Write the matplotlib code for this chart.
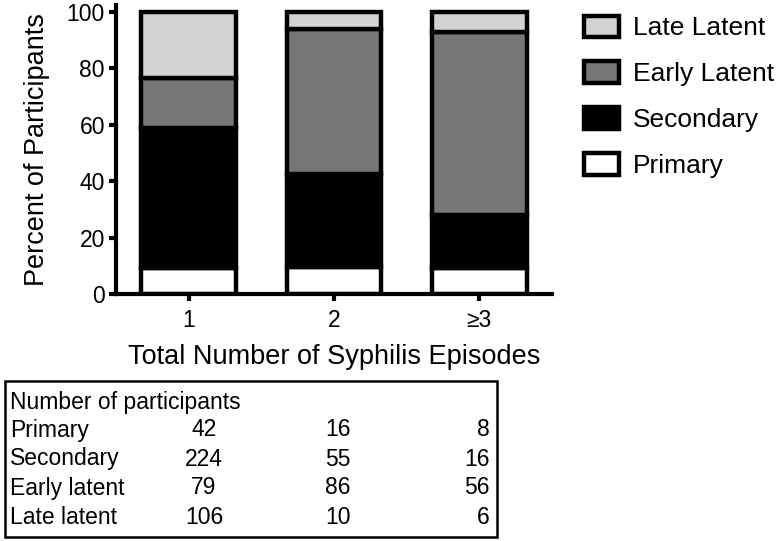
import matplotlib
matplotlib.use("Agg")
import matplotlib.pyplot as plt
import numpy as np

plt.rcParams['font.family'] = ['Liberation Sans', 'DejaVu Sans']

groups = ["1", "2", "\u22653"]
stages = ["Primary", "Secondary", "Early Latent", "Late Latent"]
table_labels = ["Primary", "Secondary", "Early latent", "Late latent"]
primary = [42, 16, 8]
secondary = [224, 55, 16]
early_latent = [79, 86, 56]
late_latent = [106, 10, 6]
colors = ["#ffffff", "#000000", "#767676", "#d3d3d3"]

counts = np.array([primary, secondary, early_latent, late_latent], dtype=float)
pct = counts / counts.sum(axis=0) * 100

W, H = 779, 541
fig = plt.figure(figsize=(W / 100, H / 100), dpi=100)
ax = fig.add_axes([116 / W, 1 - 294 / H, (552 - 116) / W, (294 - 5) / H])

x = np.arange(len(groups))
bottom = np.zeros(len(groups))
handles = []
for i, stage in enumerate(stages):
    b = ax.bar(x, pct[i], 0.65, bottom=bottom, color=colors[i],
               edgecolor="black", linewidth=3.2, label=stage, zorder=2)
    handles.append(b)
    bottom += pct[i]

ax.set_xlim(-0.5, 2.5)
ax.set_ylim(0, 102.5)
ax.set_yticks([0, 20, 40, 60, 80, 100])
ax.set_xticks(x)
ax.set_xticklabels(groups)
for s in ["top", "right"]:
    ax.spines[s].set_visible(False)
for s in ["left", "bottom"]:
    ax.spines[s].set_linewidth(3)
ax.tick_params(axis="both", width=3, length=5, labelsize=16.5)
ax.tick_params(axis="x", pad=6)
ax.tick_params(axis="y", pad=3)
ax.set_ylabel("Percent of Participants", fontsize=19.5, labelpad=12)

fig.text(334 / W, 1 - 357 / H, "Total Number of Syphilis Episodes",
         ha="center", va="center", fontsize=19.5)

leg = ax.legend(handles[::-1], stages[::-1], loc="upper left",
                bbox_to_anchor=(573 / W, 1 - 5 / H), bbox_transform=fig.transFigure,
                frameon=False, fontsize=19, handlelength=1.33, handleheight=0.87,
                labelspacing=0.80, handletextpad=0.55, borderaxespad=0)

# table
fig.patches.append(plt.Rectangle((5 / W, 1 - 537 / H), (497 - 5) / W, (537 - 381) / H,
                                 transform=fig.transFigure, fill=False,
                                 edgecolor="black", linewidth=1.8))
fs = 16.5
fig.text(10 / W, 1 - 402 / H, "Number of participants", ha="left", va="center", fontsize=fs)
row_y = [430, 459, 488, 517]
for r, lab in enumerate(table_labels):
    yy = 1 - row_y[r] / H
    fig.text(10 / W, yy, lab, ha="left", va="center", fontsize=fs)
    fig.text(204 / W, yy, str(int(counts[r, 0])), ha="center", va="center", fontsize=fs)
    fig.text(338 / W, yy, str(int(counts[r, 1])), ha="center", va="center", fontsize=fs)
    fig.text(490 / W, yy, str(int(counts[r, 2])), ha="right", va="center", fontsize=fs)

fig.savefig("out.png", dpi=100)
